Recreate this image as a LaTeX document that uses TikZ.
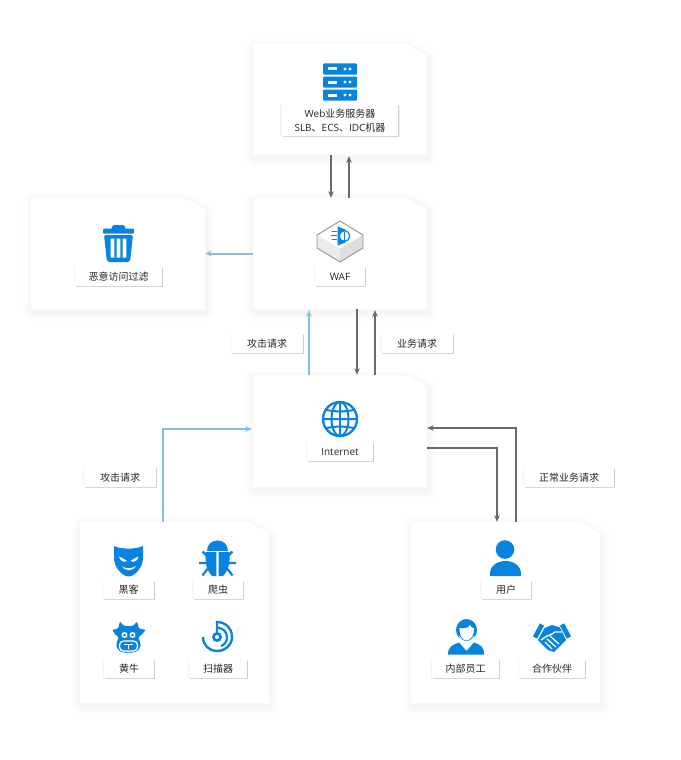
\documentclass[tikz,border=0pt]{standalone}
\usepackage{fontspec}
\setmainfont{Open Sans}
\newfontfamily\cjk{Noto Sans CJK SC}
\usetikzlibrary{arrows.meta,shadows,calc}
\definecolor{iconblue}{HTML}{0884E0}
\definecolor{txt}{HTML}{262626}
\definecolor{darkline}{HTML}{6A6A6A}
\definecolor{attackline}{HTML}{80C0E4}
\definecolor{dropline}{HTML}{92BCC8}
\tikzset{
  cardbox/.style={rectangle,inner sep=0pt},
  tag/.style={rectangle,fill=white,inner sep=0pt,font=\fontsize{10}{14}\selectfont,text=txt,align=center,
    drop shadow={shadow xshift=0pt,shadow yshift=0pt,shadow scale=1.03,opacity=.05,fill=black},
    drop shadow={shadow xshift=1.4pt,shadow yshift=-1.4pt,opacity=.16,fill=black}},
  flow/.style={draw=darkline,line width=1.4pt,-{Stealth[length=6.5pt,width=5.5pt]}},
  attack/.style={draw=attackline,line width=1.8pt,-{Stealth[length=6.5pt,width=5.5pt]}},
  drop/.style={draw=dropline,line width=2pt,-{Stealth[length=6.5pt,width=6pt]}},
}
\newcommand{\mycard}[5]{% name x0 y0 x1 y1
  \pgfmathsetmacro{\cxa}{#4-21}\pgfmathsetmacro{\cyb}{#3+11}
  \foreach \w/\o in {20/.004,16/.005,12/.006,9/.006,6/.006,3/.007}{
    \draw[black,opacity=\o,line width=\w pt,line join=round,fill=none,shift={(1,3)}]
      (#2,#3)--(\cxa,#3)--(#4,\cyb)--(#4,#5)--(#2,#5)--cycle;}
  \fill[white] (#2,#3)--(\cxa,#3)--(#4,\cyb)--(#4,#5)--(#2,#5)--cycle;
  \pgfmathsetmacro{\cw}{#4-#2}\pgfmathsetmacro{\ch}{#5-#3}
  \node[cardbox,minimum width=\cw pt,minimum height=\ch pt] (#1) at ({(#2+#4)/2},{(#3+#5)/2}) {};
}
\newcommand{\mytag}[6]{% name x0 y0 x1 y1 text
  \pgfmathsetmacro{\cw}{#4-#2}\pgfmathsetmacro{\ch}{#5-#3}
  \node[tag,minimum width=\cw pt,minimum height=\ch pt] (#1) at ({(#2+#4)/2},{(#3+#5)/2}) {#6};
}
\begin{document}
\begin{tikzpicture}[x=1pt,y=-1pt]
\useasboundingbox (0,0) rectangle (680,760);
\fill[white] (0,0) rectangle (680,760);

% cards
\mycard{web}{253}{44}{427}{155}
\mycard{filter}{31}{198}{205}{309}
\mycard{waf}{253}{198}{427}{309}
\mycard{inet}{253}{375}{427}{487}
\mycard{bad}{80}{522}{269}{703}
\mycard{good}{411}{522}{600}{703}

% connectors
\draw[flow] ([xshift=-9pt]web.south) -- ([xshift=-9pt]waf.north);
\draw[flow] ([xshift=9pt]waf.north) -- ([xshift=9pt,yshift=-1pt]web.south);
\draw[drop] (waf.west) -- (filter.east);
\draw[attack] ([xshift=-31pt]inet.north) -- ([xshift=-31pt,yshift=-1pt]waf.south);
\draw[flow] ([xshift=17pt]waf.south) -- ([xshift=17pt]inet.north);
\draw[flow] ([xshift=35pt]inet.north) -- ([xshift=35pt,yshift=-1pt]waf.south);
\draw[attack] ([xshift=-11.5pt]bad.north) |- ([xshift=-1pt,yshift=2pt]inet.west);
\draw[flow] ([xshift=10.5pt]good.north) |- ([yshift=3pt]inet.east);
\draw[flow] ([yshift=-17pt]inet.east) -| ([xshift=-8.5pt]good.north);

% tags
\mytag{t1}{282}{105}{398}{136}{Web{\cjk 业务服务器}\\SLB{\cjk 、}ECS{\cjk 、}IDC{\cjk 机器}}
\mytag{t2}{75}{267}{162}{286}{\cjk 恶意访问过滤}
\mytag{t3}{315}{267}{365}{286}{WAF}
\mytag{t4}{307}{442}{373}{461}{Internet}
\mytag{t5}{231}{334}{303}{353}{\cjk 攻击请求}
\mytag{t6}{381}{334}{453}{353}{\cjk 业务请求}
\mytag{t7}{84}{468}{156}{487}{\cjk 攻击请求}
\mytag{t8}{524}{468}{614}{487}{\cjk 正常业务请求}
\mytag{t9}{103}{581}{154}{599}{\cjk 黑客}
\mytag{t10}{193}{581}{243}{599}{\cjk 爬虫}
\mytag{t11}{104}{660}{154}{678}{\cjk 黄牛}
\mytag{t12}{189}{660}{247}{678}{\cjk 扫描器}
\mytag{t13}{481}{581}{531}{599}{\cjk 用户}
\mytag{t14}{432}{660}{499}{678}{\cjk 内部员工}
\mytag{t15}{519}{660}{585}{678}{\cjk 合作伙伴}

% server icon
\foreach \ya/\yb in {63.5/74.5,76.5/87.5,89.5/100.5}{
  \fill[iconblue,rounded corners=1pt] (323,\ya) rectangle (357,\yb);
  \fill[white] (328,{(\ya+\yb)/2-1.5}) rectangle (337,{(\ya+\yb)/2+1.5});
  \fill[white] (345,{(\ya+\yb)/2}) circle (1.6) (350,{(\ya+\yb)/2}) circle (1.6);
}

% trash icon
\fill[iconblue,rounded corners=1pt] (103,228.5) -- (134,228.5) -- (134,233.5) -- (103,233.5) -- cycle;
\fill[iconblue,rounded corners=1pt] (111,229) -- (113,225) -- (124,225) -- (126,229) -- cycle;
\fill[iconblue,rounded corners=2pt] (104,235) -- (133,235) -- (130,262) -- (107,262) -- cycle;
\fill[white] (110.7,238.5) rectangle (114.3,257.5) (116.7,238.5) rectangle (120.3,257.5) (122.7,238.5) rectangle (126.3,257.5);

% WAF cube
\fill[white] (340,221) -- (363,235) -- (340,249) -- (317,235) -- cycle;
\fill[black!8] (317,235) -- (340,249) -- (340,262) -- (317,248) -- cycle;
\fill[black!13] (363,235) -- (340,249) -- (340,262) -- (363,248) -- cycle;
\draw[black!42,line width=.9pt,line join=round] (340,221) -- (363,235) -- (363,248) -- (340,262) -- (317,248) -- (317,235) -- cycle;
\fill[iconblue] (337.5,226.5) -- (345.5,229.5) -- (345.5,242.5) -- (337.5,245.5) -- cycle;
\draw[iconblue,line width=1.2pt,fill=white] (344.5,236) circle (5.3);
\draw[iconblue,line width=1.2pt] (344.5,231.5) -- (344.5,240.5);
\draw[iconblue,line width=1.1pt] (331.5,231.5) -- (336.5,231.5) (330.5,235.5) -- (336.5,235.5) (331.5,239.5) -- (336.5,239.5);

% globe icon
\begin{scope}
\clip (340,419) circle (18);
\draw[iconblue,line width=2pt] (340,419) ellipse (8.5 and 17) (340,401) -- (340,437) (322,419) -- (358,419);
\draw[iconblue,line width=2pt] (325,409.5) .. controls (333,412) and (347,412) .. (355,409.5);
\draw[iconblue,line width=2pt] (325,428.5) .. controls (333,426) and (347,426) .. (355,428.5);
\end{scope}
\draw[iconblue,line width=2.3pt] (340,419) circle (17);

% mask icon
\fill[iconblue] (114,546) .. controls (122,549.5) and (135,549.5) .. (143,546) -- (143,558) .. controls (143,568) and (134,576.5) .. (128.5,576.5) .. controls (123,576.5) and (114,568) .. (114,558) -- cycle;
\fill[white] (119,556.5) .. controls (122,558) and (125,559) .. (127,561) .. controls (124,563) and (120,561) .. (119,556.5) -- cycle;
\fill[white] (138.5,556.5) .. controls (135.5,558) and (132.5,559) .. (130.5,561) .. controls (133.5,563) and (137.5,561) .. (138.5,556.5) -- cycle;
\fill[white] (121.5,566) .. controls (125,569) and (132,569) .. (136,566) .. controls (133,571.5) and (125,571.5) .. (121.5,566) -- cycle;

% bug icon
\fill[iconblue] (207,550.5) .. controls (207,536.5) and (228,536.5) .. (228,550.5) -- cycle;
\fill[iconblue] (205.5,552) -- (216.3,552) -- (216.3,576) -- (212,576) .. controls (208,572) and (205.5,566) .. (205.5,560) -- cycle;
\fill[iconblue] (229.5,552) -- (218.7,552) -- (218.7,576) -- (223,576) .. controls (227,572) and (229.5,566) .. (229.5,560) -- cycle;
\draw[iconblue,line width=2.2pt] (207,556) -- (202.5,551.5) (206,563) -- (199,563) (207.5,569) -- (202.5,575.5)
  (228,556) -- (232.5,551.5) (229,563) -- (236,563) (227.5,569) -- (232.5,575.5);

% cow icon
\fill[iconblue,rounded corners=1.5pt] (120,621) -- (123.5,626) -- (133.5,626) -- (137,621) -- (139,629) -- (146,629.5) -- (141,635.5) -- (138,637) -- (141,644) -- (139,650) -- (134,652.5) -- (123,652.5) -- (118,650) -- (116,644) -- (119,637) -- (116,635.5) -- (112,629.5) -- (118,629) -- cycle;
\fill[white] (124.5,635) circle (3) (132.5,635) circle (3);
\fill[iconblue] (124.5,635) circle (1.5) (132.5,635) circle (1.5);
\draw[white,line width=1.3pt,rounded corners=4pt] (119.5,641) rectangle (137.5,651);
\draw[white,line width=1.3pt] (124,644.5) -- (133,644.5) (128.5,644.5) -- (128.5,649);

% scanner icon
\draw[iconblue,line width=2.4pt] (203,637) .. controls (203,645) and (209,651) .. (217,651) .. controls (225,651) and (232,645) .. (232,637) .. controls (232,628) and (225,622) .. (217,622) -- (217,633);
\draw[iconblue,line width=2.2pt] (217,627.5) .. controls (223,628) and (227,632) .. (227,637) .. controls (227,642) and (224,645) .. (221,646);
\fill[iconblue] (217,637) circle (5);
\fill[white] (217,637) circle (2);

% user icon
\fill[iconblue] (505,549.5) circle (9.3);
\fill[iconblue] (490,576) .. controls (489,566) and (497,561) .. (505.5,561) .. controls (514,561) and (522,566) .. (521,576) -- cycle;

% employee icon
\fill[iconblue] (466.5,630) ellipse (10.5 and 11);
\fill[white] (459.5,628) .. controls (463,629) and (469,628) .. (470,625) .. controls (471,627) and (472.5,628) .. (474,628.5) .. controls (474.5,635) and (470.5,640.5) .. (466.5,640.5) .. controls (462.5,640.5) and (459,635) .. (459.5,628) -- cycle;
\draw[white,line width=.8pt] (459.5,636) .. controls (461,640) and (464,642) .. (466.5,642) .. controls (469,642) and (472,640) .. (474,636);
\fill[iconblue] (448,654.5) .. controls (448,647) and (452,645) .. (459,642.5) -- (466.5,651) -- (474,642.5) .. controls (481,645) and (484,647) .. (484,654.5) -- cycle;

% handshake icon
\draw[iconblue,line width=4.8pt] (542,624.5) -- (535,637.5) (562,624.5) -- (569,637.5);
\fill[iconblue] (544.5,628) -- (552,625) -- (560,627.5) -- (566,640) -- (554,652) -- (548,650) -- (538,640) -- cycle;
\draw[white,line width=1.3pt,line join=round] (541,640) -- (547,636) -- (552,634) -- (555,632) -- (562,632);
\draw[white,line width=1.3pt] (550,636) -- (559,644) (547,639) -- (556,647) (545,642) -- (552,649);
\end{tikzpicture}
\end{document}
